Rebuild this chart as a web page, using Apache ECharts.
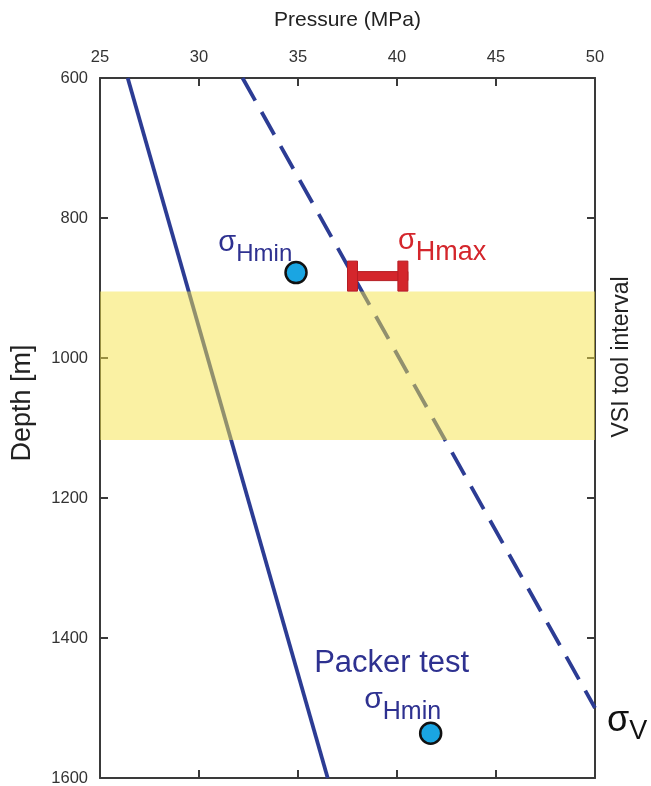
<!DOCTYPE html>
<html>
<head>
<meta charset="utf-8">
<script src="https://cdn.jsdelivr.net/npm/echarts@6/dist/echarts.min.js"></script>
<style>
  html, body { margin: 0; padding: 0; background: #fff; }
  #chart { width: 651px; height: 786px; }
</style>
</head>
<body>
<div id="chart"></div>
<script>
// Pressure axis (MPa) and depth axis (m)
const pressureTicks = [25, 30, 35, 40, 45, 50];
const depthTicks = [600, 800, 1000, 1200, 1400, 1600];

// Stress profiles: [pressure MPa, depth m]
const shminTrend = [[26.4, 600], [36.5, 1600]];
const sigmaVTrend = [[32.2, 600], [50, 1500]];

// Measurements
const shminVsi = [[34.9, 878]];           // σHmin from the VSI tool
const shmaxRange = [[37.5, 40.55, 883]];  // σHmax [low, high, depth]
const packerTest = [[41.7, 1536]];        // σHmin from packer test

// Depth interval logged by the VSI tool
const vsiInterval = [905, 1117];

const navy = '#2c3c94';
const labelNavy = '#2e3190';
const red = '#d4262c';
const axisColor = '#3a3a3a';
const font = 'Liberation Sans';

const chart = echarts.init(document.getElementById('chart'));

const tickStyle = { show: true, inside: true, length: 8, lineStyle: { color: axisColor, width: 2 } };
const lineStyleAxis = { show: true, onZero: false, lineStyle: { color: axisColor, width: 2 } };

const pressureCommon = {
  type: 'value',
  min: pressureTicks[0],
  max: pressureTicks[pressureTicks.length - 1],
  interval: pressureTicks[1] - pressureTicks[0],
  axisLine: lineStyleAxis,
  axisTick: tickStyle,
  splitLine: { show: false }
};
const depthCommon = {
  type: 'value',
  inverse: true,
  min: depthTicks[0],
  max: depthTicks[depthTicks.length - 1],
  interval: depthTicks[1] - depthTicks[0],
  axisLine: lineStyleAxis,
  axisTick: tickStyle,
  splitLine: { show: false }
};

const option = {
  animation: false,
  backgroundColor: '#ffffff',
  grid: { left: 100, right: 56, top: 78, bottom: 8, containLabel: false, outerBoundsMode: 'none' },
  xAxis: [
    Object.assign({}, pressureCommon, {
      position: 'top',
      name: 'Pressure (MPa)',
      nameLocation: 'middle',
      nameGap: 47,
      nameTextStyle: { fontSize: 21, color: '#222', fontFamily: font },
      axisLabel: { show: true, margin: 12, fontSize: 16.5, color: '#333', fontFamily: font }
    }),
    Object.assign({}, pressureCommon, {
      position: 'bottom',
      axisLabel: { show: false }
    })
  ],
  yAxis: [
    Object.assign({}, depthCommon, {
      position: 'left',
      name: 'Depth [m]',
      nameLocation: 'middle',
      nameRotate: 90,
      nameGap: 64,
      nameTextStyle: { fontSize: 27, color: '#222', fontFamily: font, padding: [0, 0, 0, 50] },
      axisLabel: {
        show: true, margin: 12, fontSize: 16.5, color: '#333', fontFamily: font,
        formatter: function (v) { return String(v); }
      }
    }),
    Object.assign({}, depthCommon, {
      position: 'right',
      axisLabel: { show: false }
    })
  ],
  graphic: [
    {
      type: 'text',
      x: 622,
      y: 357,
      rotation: Math.PI / 2,
      style: {
        text: 'VSI tool interval',
        fontSize: 23,
        fontFamily: font,
        fill: '#222',
        textAlign: 'center',
        textVerticalAlign: 'middle'
      }
    }
  ],
  series: [
    {
      name: 'σHmin trend',
      type: 'line',
      data: shminTrend,
      symbol: 'none',
      z: 2,
      lineStyle: { color: navy, width: 3.8 }
    },
    {
      name: 'σV',
      type: 'line',
      data: sigmaVTrend,
      symbol: 'none',
      z: 2,
      lineStyle: { color: navy, width: 3.8, type: [26, 13] },
      endLabel: {
        show: true,
        formatter: '{s|σ}{v|V}',
        offset: [4, 16],
        rich: {
          s: { fontSize: 36, fontFamily: font, color: '#111', padding: [0, 0, 6, 0] },
          v: { fontSize: 27, fontFamily: font, color: '#111', padding: [16, 0, 0, 0] }
        }
      }
    },
    {
      name: 'VSI interval',
      type: 'line',
      data: [],
      z: 3,
      markArea: {
        silent: true,
        z: 4,
        itemStyle: { color: 'rgba(246, 228, 72, 0.5)' },
        data: [[{ yAxis: vsiInterval[0] }, { yAxis: vsiInterval[1] }]]
      }
    },
    {
      name: 'σHmax',
      type: 'custom',
      z: 5,
      data: shmaxRange,
      renderItem: function (params, api) {
        const lo = api.coord([api.value(0), api.value(2)]);
        const hi = api.coord([api.value(1), api.value(2)]);
        const y = lo[1];
        const capW = 10, capH = 30, barH = 9;
        const style = { fill: red, stroke: '#b51d23', lineWidth: 1 };
        return {
          type: 'group',
          children: [
            { type: 'rect', shape: { x: lo[0], y: y - barH / 2, width: hi[0] - lo[0], height: barH }, style: style },
            { type: 'rect', shape: { x: lo[0], y: y - capH / 2, width: capW, height: capH }, style: style },
            { type: 'rect', shape: { x: hi[0] - capW, y: y - capH / 2, width: capW, height: capH }, style: style },
            {
              type: 'text',
              x: hi[0] - 10,
              y: y - 10,
              style: {
                text: '{s|σ}{h|Hmax}',
                textAlign: 'left',
                textVerticalAlign: 'bottom',
                rich: {
                  s: { fontSize: 29, fontFamily: font, fill: red, padding: [0, 0, 8, 0] },
                  h: { fontSize: 27, fontFamily: font, fill: red, padding: [16, 0, 0, 0] }
                }
              }
            }
          ]
        };
      }
    },
    {
      name: 'σHmin (VSI)',
      type: 'scatter',
      z: 6,
      data: shminVsi,
      symbol: 'circle',
      symbolSize: 21,
      itemStyle: { color: '#1aa5e2', borderColor: '#111', borderWidth: 2.5, opacity: 1 },
      label: {
        show: true,
        position: 'left',
        distance: 0,
        offset: [8, -26],
        formatter: '{s|σ}{h|Hmin}',
        rich: {
          s: { fontSize: 29, fontFamily: font, color: labelNavy, padding: [0, 0, 8, 0] },
          h: { fontSize: 24, fontFamily: font, color: labelNavy, padding: [16, 0, 0, 0] }
        }
      }
    },
    {
      name: 'Packer test',
      type: 'scatter',
      z: 6,
      data: packerTest,
      symbol: 'circle',
      symbolSize: 21,
      itemStyle: { color: '#1aa5e2', borderColor: '#111', borderWidth: 2.5, opacity: 1 },
      label: {
        show: true,
        position: 'top',
        distance: 0,
        offset: [-39, 3],
        align: 'center',
        formatter: '{p|Packer test}\n{s|σ}{h|Hmin}',
        rich: {
          p: { fontSize: 31, fontFamily: font, color: labelNavy, lineHeight: 40, align: 'center' },
          s: { fontSize: 30, fontFamily: font, color: labelNavy, padding: [0, 0, 8, 22] },
          h: { fontSize: 25, fontFamily: font, color: labelNavy, padding: [16, 0, 0, 0] }
        }
      }
    }
  ]
};

chart.setOption(option);
</script>
</body>
</html>
